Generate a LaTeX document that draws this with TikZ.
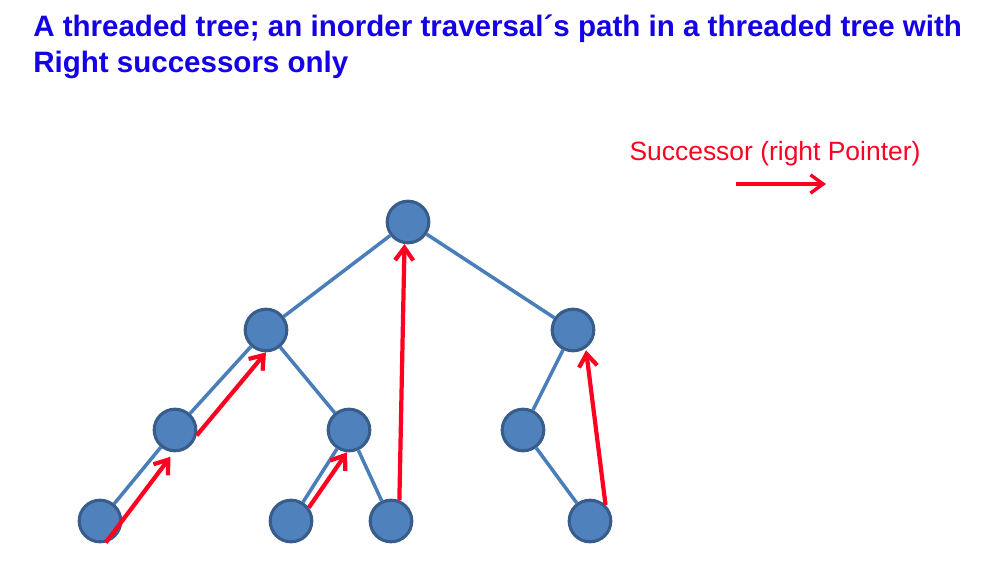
\documentclass[tikz,border=0pt]{standalone}
\usepackage{fontspec}
\setmainfont{Liberation Sans}
\usetikzlibrary{arrows.meta}

\definecolor{nodeblue}{RGB}{79,129,189}
\definecolor{nodeline}{RGB}{56,93,138}
\definecolor{edgeblue}{RGB}{74,126,187}
\definecolor{threadred}{RGB}{255,0,32}
\definecolor{titleblue}{RGB}{20,0,230}

\begin{document}
\begin{tikzpicture}[x=0.025cm, y=0.025cm,
                    main node/.style={circle,draw=nodeline,fill=nodeblue,line width=2.2pt,
                                      minimum size=1.04cm,inner sep=0pt},
                    tree line/.style={edgeblue,line width=2.5pt},
                    thread/.style={threadred,line width=3pt,-{Straight Barb[length=9pt,width=13pt]}}]

  \useasboundingbox (0,0) rectangle (985,-576);

  \node[anchor=base west,align=left,text=titleblue,inner sep=0pt,
        font=\bfseries\fontsize{21}{25.3}\selectfont] (title) at (33,-72.5)
        {A threaded tree; an inorder traversal´s path in a threaded tree with\\Right successors only};

  \node[main node] (1) at (408,-222) {};
  \node[main node] (2) at (266,-330) {};
  \node[main node] (3) at (573,-330) {};
  \node[main node] (4) at (175,-430) {};
  \node[main node] (5) at (349,-430) {};
  \node[main node] (6) at (523,-430) {};
  \node[main node] (7) at (100,-521) {};
  \node[main node] (8) at (291,-521) {};
  \node[main node] (9) at (391,-521) {};
  \node[main node] (10) at (590,-521) {};

  \path[every edge/.style={draw,tree line}]
    (1) edge (2)
        edge (3)
    (2) edge (4)
        edge (5)
    (3) edge (6)
    (4) edge (7)
    (5) edge (8)
        edge (9)
    (6) edge (10);

  % right threads
  \path[every edge/.style={draw,thread}]
    (7.-75) edge[shorten >=0.14cm] (4.-93)
    (4.-14) edge (2.south)
    (8.37) edge (5.-95)
    (9.68) edge (1.-99)
    (10.46) edge[shorten >=0.05cm] (3.-55);

  \node[anchor=base,text=threadred,font=\fontsize{18.8}{20}\selectfont] (legend) at (775,-161)
        {Successor (right Pointer)};
  \coordinate (arrow start) at (736,-184);
  \coordinate (arrow end) at (826,-184);
  \draw[thread,line width=2.4pt] (arrow start) -- (arrow end);
\end{tikzpicture}
\end{document}
